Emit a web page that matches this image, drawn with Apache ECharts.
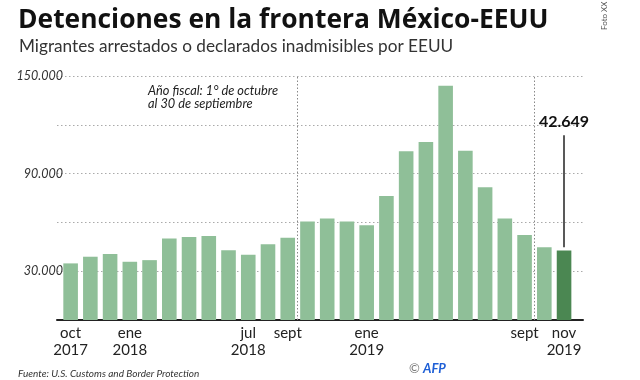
<!DOCTYPE html>
<html>
<head>
<meta charset="utf-8">
<script src="https://cdn.jsdelivr.net/npm/echarts@6/dist/echarts.min.js"></script>
<style>html,body{margin:0;padding:0;background:#fff}#c{width:640px;height:380px}</style>
</head>
<body>
<div id="c"></div>
<script>
// Data: monthly detentions, Oct 2017 - Nov 2019
const months = ['oct 2017','nov 2017','dic 2017','ene 2018','feb 2018','mar 2018','abr 2018','may 2018','jun 2018','jul 2018','ago 2018','sept 2018',
  'oct 2018','nov 2018','dic 2018','ene 2019','feb 2019','mar 2019','abr 2019','may 2019','jun 2019','jul 2019','ago 2019','sept 2019','oct 2019','nov 2019'];
const values = [34800, 38900, 40500, 35800, 36800, 50100, 51100, 51700, 42900, 40100, 46600, 50500,
  60500, 62400, 60500, 58300, 76300, 103700, 109400, 144000, 104100, 81600, 62400, 52300, 44800, 42649];
const xTickLabels = ['oct\n2017','','','ene\n2018','','','','','','jul\n2018','','sept',
  '','','','ene\n2019','','','','','','','','sept','','nov\n2019'];
const yTickLabels = {30000:'30.000', 90000:'90.000', 150000:'150.000'};
const fiscalBreaks = [11.5, 23.5];
const highlightIndex = 25;

const fmt = v => String(v).replace(/\B(?=(\d{3})+(?!\d))/g, '.');
const labelIdx = xTickLabels.map((l,i)=> l ? i : -1).filter(i => i >= 0);

const chart = echarts.init(document.getElementById('c'), null, {renderer:'canvas'});
const barData = values.map((v,i) => ({
  value: [i, v],
  itemStyle: { color: i === highlightIndex ? '#4b8752' : '#8fbf98' }
}));
const hv = values[highlightIndex];

chart.setOption({
  backgroundColor: '#ffffff',
  animation: false,
  title: [
    { text: 'Detenciones en la frontera México-EEUU', left: 13, top: 2,
      textStyle: { fontFamily: 'Open Sans', fontWeight: 'bold', fontSize: 26.4, color: '#111' } },
    { text: 'Migrantes arrestados o declarados inadmisibles por EEUU', left: 14, top: 33,
      textStyle: { fontFamily: 'Lato', fontWeight: 'normal', fontSize: 17.2, color: '#333' } },
    { text: 'Fuente: U.S. Customs and Border Protection', left: 13, top: 364,
      textStyle: { fontFamily: 'Lato', fontStyle: 'italic', fontWeight: 'normal', fontSize: 10, color: '#333' } }
  ],
  grid: { left: 57, right: 57, top: 76, bottom: 60, containLabel: false },
  xAxis: {
    type: 'value', min: -0.69, max: 25.96,
    splitLine: { show: false },
    axisTick: { show: false },
    axisLine: { show: true, lineStyle: { color: '#222', width: 2 } },
    axisLabel: {
      customValues: labelIdx,
      formatter: v => xTickLabels[Math.round(v)] || '',
      fontFamily: 'Lato', fontSize: 15, lineHeight: 17, color: '#222', margin: 5
    }
  },
  yAxis: {
    type: 'value', min: 0, max: 150000, interval: 30000,
    axisLine: { show: false }, axisTick: { show: false },
    splitLine: { show: true, lineStyle: { type: [1.5, 2.5], color: '#aaa', width: 1 } },
    axisLabel: {
      formatter: v => yTickLabels[v] || '',
      fontFamily: 'Lato', fontStyle: 'italic', fontSize: 12.5, color: '#333', margin: -6
    }
  },
  series: [{
    type: 'bar',
    data: barData,
    barWidth: 14.6,
    markLine: {
      silent: true,
      symbol: 'none',
      data: [
        ...fiscalBreaks.map(x => ({ xAxis: x, label: { show: false },
          lineStyle: { type: [1.5, 2], color: '#888', width: 1 } })),
        [
          { coord: [highlightIndex, hv + 2000],
            label: { show: true, position: 'end', formatter: fmt(hv), distance: 5,
              fontFamily: 'Lato', fontWeight: 'bold', fontSize: 16, color: '#111' } },
          { coord: [highlightIndex, hv + 71000] }
        ]
      ],
      lineStyle: { type: 'solid', color: '#222', width: 1.5 }
    }
  }],
  graphic: [
    { type: 'text', left: 148, top: 84, style: {
      text: 'Año fiscal: 1° de octubre\nal 30 de septiembre', fontFamily: 'Lato', fontStyle: 'italic',
      fontSize: 12.8, lineHeight: 13, fill: '#222' } },
    { type: 'text', left: 409, top: 362, style: { text: '©', fontFamily: 'Lato', fontSize: 13, fill: '#777' } },
    { type: 'text', left: 423, top: 362, style: { text: 'AFP', fontFamily: 'Lato', fontStyle: 'italic',
      fontWeight: 'bold', fontSize: 13, fill: '#1e5fd6' } },
    { type: 'text', x: 600, y: 30, rotation: Math.PI/2, style: { text: 'Foto XX', fontFamily: 'Lato',
      fontSize: 8, fill: '#555' } }
  ]
});
</script>
</body>
</html>
